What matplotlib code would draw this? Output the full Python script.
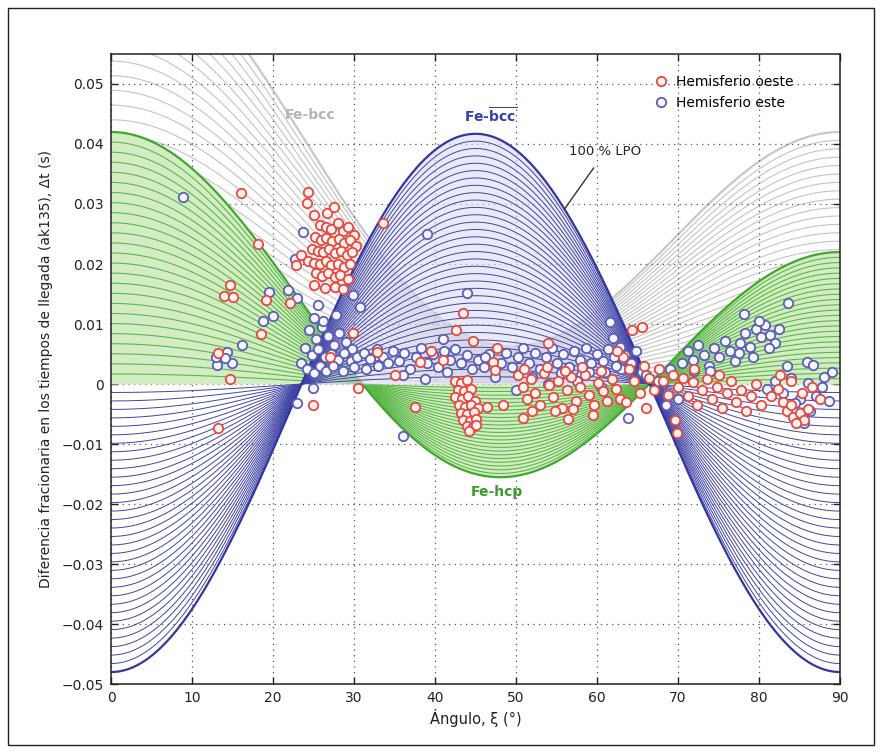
import numpy as np
import matplotlib.pyplot as plt
from matplotlib.patches import Rectangle

# angle axis for the model curves (degrees)
XI = np.linspace(0, 90, 721)

# 100 % LPO curves: a + b*cos(2 xi) + c*cos(4 xi), coefficients
BCC_BAR_COEF = (-0.00315, 0.0, -0.04485)   # Fe-bcc (overline), blue
BCC_COEF = (0.0326, 0.0157, 0.0251)        # Fe-bcc, gray
HCP_COEF = (0.0085, 0.0100, 0.0235)        # Fe-hcp, green

N_BCC_BAR = 34
N_BCC = 30
N_HCP = 25

# Hemisferio oeste (red)
oeste_x = [
    # cluster near 25-30 deg
    24.3, 24.2, 25.1, 25.8, 26.5, 27.2, 28.0, 28.6, 29.3, 30.0,
    25.2, 25.9, 26.6, 27.3, 28.1, 28.8, 29.5, 30.3,
    24.8, 25.5, 26.2, 26.9, 27.6, 28.4, 29.1, 29.8,
    23.5, 24.3, 25.0, 25.8, 26.5, 27.2, 28.0, 28.7, 29.5,
    25.3, 26.0, 26.8, 27.6, 28.3, 29.2,
    25.0, 26.4, 27.6, 28.6, 22.8, 26.7, 27.5,
    # scattered, left
    16.1, 18.2, 14.7, 13.9, 15.1, 19.1, 18.5, 13.2, 14.7, 13.2, 22.1,
    33.6, 29.9, 30.5, 24.9, 32.8, 27.0,
    # cluster near 43-45 deg
    42.5, 43.2, 44.0, 42.8, 43.6, 44.4, 42.5, 43.3, 44.1, 44.9, 42.9, 43.7,
    44.5, 45.3, 43.2, 44.0, 44.8, 43.5, 44.3, 45.1, 43.9, 44.7, 44.2, 45.0,
    # scattered, middle
    43.5, 42.6, 44.7, 47.7, 54.0, 38.1, 35.0, 47.2, 47.4, 46.4, 48.4, 37.5,
    50.9, 56.4, 59.5, 39.5, 41.0,
    # band 50-62 deg
    50.2, 50.8, 51.3, 51.9, 52.4, 53.0, 53.5, 54.1, 54.6, 55.2, 55.7, 56.3,
    56.8, 57.4, 57.9, 58.5, 59.0, 59.6, 60.1, 60.7, 61.2, 61.8, 62.3, 52.0,
    54.8, 57.0, 51.0, 53.8, 56.0, 58.2, 60.5, 62.8,
    # band 63-80 deg
    63.2, 64.0, 64.6, 65.3, 63.6, 65.8, 66.4, 67.0, 67.6, 68.2, 68.8, 69.4,
    70.0, 70.6, 71.2, 71.8, 72.4, 73.0, 73.6, 74.2, 74.8, 75.4, 76.0, 76.6,
    77.2, 77.8, 78.4, 79.0, 79.6, 80.2, 65.5, 64.3, 62.5, 69.9, 69.6, 66.0,
    72.0, 75.0,
    # right, 81-88 deg
    81.5, 82.3, 83.0, 83.5, 84.2, 85.0, 85.6, 84.6, 83.9, 86.0, 82.6, 84.0,
    85.3, 86.6, 87.5,
]
oeste_y = [
    0.0320, 0.0302, 0.0282, 0.0265, 0.0262, 0.0258, 0.0268, 0.0255, 0.0262, 0.0248,
    0.0245, 0.0240, 0.0243, 0.0238, 0.0242, 0.0235, 0.0240, 0.0230,
    0.0225, 0.0222, 0.0220, 0.0225, 0.0218, 0.0222, 0.0215, 0.0220,
    0.0215, 0.0205, 0.0202, 0.0200, 0.0205, 0.0198, 0.0200, 0.0195, 0.0200,
    0.0185, 0.0180, 0.0185, 0.0178, 0.0182, 0.0175,
    0.0165, 0.0160, 0.0162, 0.0158, 0.0198, 0.0285, 0.0295,
    0.0319, 0.0233, 0.0165, 0.0147, 0.0145, 0.0140, 0.0083, 0.0052, 0.0008, -0.0073, 0.0135,
    0.0268, 0.0085, -0.0007, -0.0035, 0.0053, 0.0045,
    0.0005, 0.0002, 0.0006, -0.0010, -0.0012, -0.0008, -0.0022, -0.0025, -0.0020, -0.0028, -0.0035, -0.0038,
    -0.0035, -0.0040, -0.0048, -0.0050, -0.0047, -0.0060, -0.0062, -0.0058, -0.0070, -0.0072, -0.0078, -0.0068,
    0.0118, 0.0090, 0.0072, 0.0060, 0.0068, 0.0037, 0.0015, 0.0037, 0.0023, -0.0038, -0.0035, -0.0038,
    -0.0057, -0.0058, -0.0052, 0.0055, 0.0040,
    0.0015, -0.0005, -0.0025, 0.0008, -0.0015, -0.0035, 0.0018, -0.0002, -0.0022, 0.0005, -0.0040, -0.0010,
    0.0012, -0.0028, -0.0005, 0.0015, -0.0018, -0.0035, 0.0002, -0.0012, -0.0028, 0.0008, -0.0008, -0.0045,
    -0.0045, -0.0042, 0.0025, 0.0028, 0.0022, 0.0028, 0.0022, -0.0025,
    0.0045, 0.0025, 0.0005, -0.0015, -0.0030, 0.0030, 0.0010, -0.0010, 0.0025, 0.0005, -0.0018, 0.0015,
    -0.0005, 0.0010, -0.0020, 0.0003, -0.0035, -0.0010, 0.0008, -0.0025, -0.0005, -0.0040, -0.0015, 0.0005,
    -0.0030, -0.0010, -0.0045, -0.0020, 0.0000, -0.0035, 0.0095, 0.0090, 0.0055, -0.0082, -0.0060, -0.0040,
    0.0025, 0.0015,
    -0.0020, -0.0008, -0.0030, -0.0045, -0.0055, -0.0048, -0.0060, -0.0065, -0.0035, -0.0042, 0.0015, 0.0005,
    -0.0015, -0.0005, -0.0025,
]

# Hemisferio este (blue)
este_x = [
    # scattered, left
    8.9, 23.7, 22.7, 21.9, 23.0, 20.0, 16.2, 14.3, 14.9, 13.1, 14.1, 25.6,
    29.9, 30.7, 23.0, 24.9, 13.0, 19.5, 18.8,
    # cluster 23-34 deg
    24.5, 25.3, 26.0, 26.8, 27.5, 28.2, 29.0, 29.8, 24.0, 24.8, 25.6, 26.4,
    27.2, 28.0, 28.8, 29.6, 30.4, 31.2, 32.0, 32.8, 33.6, 23.4, 24.2, 25.0,
    25.8, 26.6, 27.4, 28.6, 30.0, 31.5, 33.0, 34.2, 26.2, 27.8, 25.0,
    # band 34-62 deg
    34.8, 35.5, 36.2, 36.9, 37.6, 38.3, 39.0, 39.7, 40.4, 41.1, 41.8, 42.5,
    43.2, 43.9, 44.6, 45.3, 46.0, 46.7, 47.4, 48.1, 48.8, 49.5, 50.2, 50.9,
    51.6, 52.3, 53.0, 53.7, 54.4, 55.1, 55.8, 56.5, 57.2, 57.9, 58.6, 59.3,
    60.0, 60.7, 61.4, 62.1, 36.0, 38.8, 41.5, 46.2, 52.0, 55.5, 58.0, 61.0,
    39.0, 44.0, 36.0, 41.0,
    # 61-66 deg
    61.6, 62.0, 62.8, 63.5, 64.2, 63.0, 64.8, 63.8, 65.5, 62.4,
    # mixed into the red band
    60.5, 59.0, 57.5, 66.0, 67.5, 69.0, 70.0, 68.5, 54.0, 50.0,
    # rising cluster 70-84 deg
    70.5, 71.2, 71.8, 72.5, 73.2, 73.8, 74.5, 75.1, 75.8, 76.4, 77.0, 77.7,
    78.3, 78.9, 79.6, 80.2, 80.8, 81.4, 82.0, 80.0, 81.2, 79.2, 77.5, 74.0,
    72.0, 83.6, 78.1, 82.5,
    # right, 81-89 deg
    85.9, 86.7, 89.0, 81.0, 82.0, 83.0, 84.0, 85.0, 86.0, 87.0, 87.8, 88.6,
    85.5, 86.3, 88.0, 84.5, 83.5,
]
este_y = [
    0.0312, 0.0253, 0.0208, 0.0157, 0.0143, 0.0113, 0.0065, 0.0053, 0.0035, 0.0032, 0.0043, 0.0132,
    0.0148, 0.0128, -0.0032, -0.0007, 0.0045, 0.0153, 0.0105,
    0.0090, 0.0075, 0.0095, 0.0080, 0.0065, 0.0085, 0.0070, 0.0058, 0.0060, 0.0048, 0.0058, 0.0045,
    0.0050, 0.0040, 0.0052, 0.0038, 0.0045, 0.0052, 0.0042, 0.0058, 0.0045, 0.0035, 0.0025, 0.0018,
    0.0030, 0.0022, 0.0030, 0.0022, 0.0028, 0.0025, 0.0030, 0.0035, 0.0105, 0.0115, 0.0110,
    0.0055, 0.0038, 0.0052, 0.0025, 0.0045, 0.0060, 0.0035, 0.0050, 0.0028, 0.0055, 0.0040, 0.0058,
    0.0035, 0.0048, 0.0025, 0.0040, 0.0028, 0.0050, 0.0012, 0.0035, 0.0052, 0.0028, 0.0045, 0.0060,
    0.0035, 0.0052, 0.0025, 0.0045, 0.0060, 0.0035, 0.0050, 0.0028, 0.0055, 0.0040, 0.0060, 0.0035,
    0.0050, 0.0038, 0.0058, 0.0045, 0.0015, 0.0008, 0.0020, 0.0045, 0.0012, 0.0018, 0.0015, 0.0020,
    0.0250, 0.0152, -0.0087, 0.0075,
    0.0103, 0.0077, 0.0062, 0.0048, 0.0035, 0.0025, 0.0055, -0.0057, 0.0020, 0.0030,
    -0.0005, 0.0020, 0.0005, 0.0015, 0.0005, 0.0025, -0.0025, -0.0035, 0.0000, -0.0010,
    0.0035, 0.0055, 0.0040, 0.0065, 0.0048, 0.0030, 0.0060, 0.0045, 0.0072, 0.0055, 0.0038, 0.0068,
    0.0085, 0.0062, 0.0092, 0.0078, 0.0098, 0.0082, 0.0068, 0.0105, 0.0060, 0.0045, 0.0052, 0.0022,
    0.0022, 0.0135, 0.0117, 0.0092,
    0.0037, 0.0032, 0.0020, -0.0008, 0.0005, -0.0015, 0.0010, -0.0025, 0.0002, -0.0020, -0.0005, -0.0028,
    -0.0065, -0.0045, 0.0012, -0.0032, 0.0030,
]

y_ticks = [-0.05, -0.04, -0.03, -0.02, -0.01, 0, 0.01, 0.02, 0.03, 0.04, 0.05]
y_tick_labels = ['\u22120.05', '\u22120.04', '\u22120.03', '\u22120.02', '\u22120.01', '0',
                 '0.01', '0.02', '0.03', '0.04', '0.05']
x_ticks = [0, 10, 20, 30, 40, 50, 60, 70, 80, 90]


def lpo_curve(coef, xi):
    a, b, c = coef
    r = np.radians(xi)
    return a + b * np.cos(2 * r) + c * np.cos(4 * r)


def draw_family(ax, coef, n, line_col, fill_col, edge_col, fill_where=None, z=1, lw=0.7):
    full = lpo_curve(coef, XI)
    if fill_col is not None:
        where = None if fill_where is None else fill_where(full)
        ax.fill_between(XI, 0, full, where=where, color=fill_col, lw=0, zorder=z)
    for s in np.linspace(0, 1, n + 1)[1:-1]:
        ax.plot(XI, s * full, color=line_col, lw=lw, zorder=z + 0.1)
    ax.plot(XI, full, color=edge_col, lw=1.6, zorder=z + 0.2)


fig = plt.figure(figsize=(8.82, 7.53), dpi=100)
ax = fig.add_axes([0.1259, 0.0916, 0.8265, 0.8367])

draw_family(ax, BCC_COEF, N_BCC, '#c4c4c4', None, '#c8c8c8', z=1, lw=0.8)
draw_family(ax, HCP_COEF, N_HCP, '#5cb848', '#d3ecc4', '#3ea82c', z=2, lw=0.8)
draw_family(ax, BCC_BAR_COEF, N_BCC_BAR, '#4245a6', (0.86, 0.86, 0.95, 0.6), '#3236a0',
            fill_where=lambda v: v > 0, z=3, lw=0.7)

ax.scatter(este_x, este_y, s=46, facecolor='#f6f6ff', edgecolor='#5b5fb8', lw=1.3,
           zorder=5, label='Hemisferio este')
ax.scatter(oeste_x, oeste_y, s=46, facecolor='#fff3f1', edgecolor='#e8493f', lw=1.3,
           zorder=6, label='Hemisferio oeste')

ax.set_xlim(0, 90)
ax.set_ylim(-0.05, 0.055)
ax.set_xticks(x_ticks)
ax.set_yticks(y_ticks)
ax.set_yticklabels(y_tick_labels)
ax.grid(True, color='#555555', lw=0.9, linestyle=(0, (1, 3.5)))
for gl in ax.get_xgridlines() + ax.get_ygridlines():
    gl.set_zorder(4)
ax.tick_params(direction='in', top=True, right=True, length=5, width=1,
               labelsize=10, colors='#222222', pad=5)
for sp in ax.spines.values():
    sp.set_linewidth(1.1)
    sp.set_color('#222222')
    sp.set_zorder(7)

ax.set_xlabel('\u00c1ngulo, \u03be (\u00b0)', fontsize=10.5, color='#222222', labelpad=3)
ax.set_ylabel('Diferencia fracionaria en los tiempos de llegada (ak135), \u0394t (s)',
              fontsize=10, color='#222222', labelpad=6)

ax.text(24.6, 0.0448, 'Fe-bcc', color='#b4b4b4', fontsize=10, fontweight='bold',
        ha='center', va='center', zorder=8)
ax.text(46.8, 0.0447, r'Fe-$\overline{\mathbf{bcc}}$', color='#3a3ea6', fontsize=10,
        fontweight='bold', ha='center', va='center', zorder=8)
ax.text(47.6, -0.0180, 'Fe-hcp', color='#3a9a2a', fontsize=10, fontweight='bold',
        ha='center', va='center', zorder=8)
ax.annotate('100 % LPO', xy=(56.0, 0.0292), xytext=(61.0, 0.0387), fontsize=9.5,
            color='#222222', ha='center', va='center', zorder=8,
            arrowprops=dict(arrowstyle='-', color='#333333', lw=1.0, shrinkA=6, shrinkB=0))

h, l = ax.get_legend_handles_labels()
leg = ax.legend(h[::-1], l[::-1], loc='upper left', bbox_to_anchor=(0.728, 0.975),
                frameon=False, fontsize=10, handletextpad=0.1, borderaxespad=0,
                labelspacing=0.45, scatteryoffsets=[0.5])
leg.set_zorder(9)

fig.patches.append(Rectangle((0.009, 0.011), 0.982, 0.978, transform=fig.transFigure,
                             fill=False, ec='#222222', lw=1.0))

fig.savefig('out.png', dpi=100)
